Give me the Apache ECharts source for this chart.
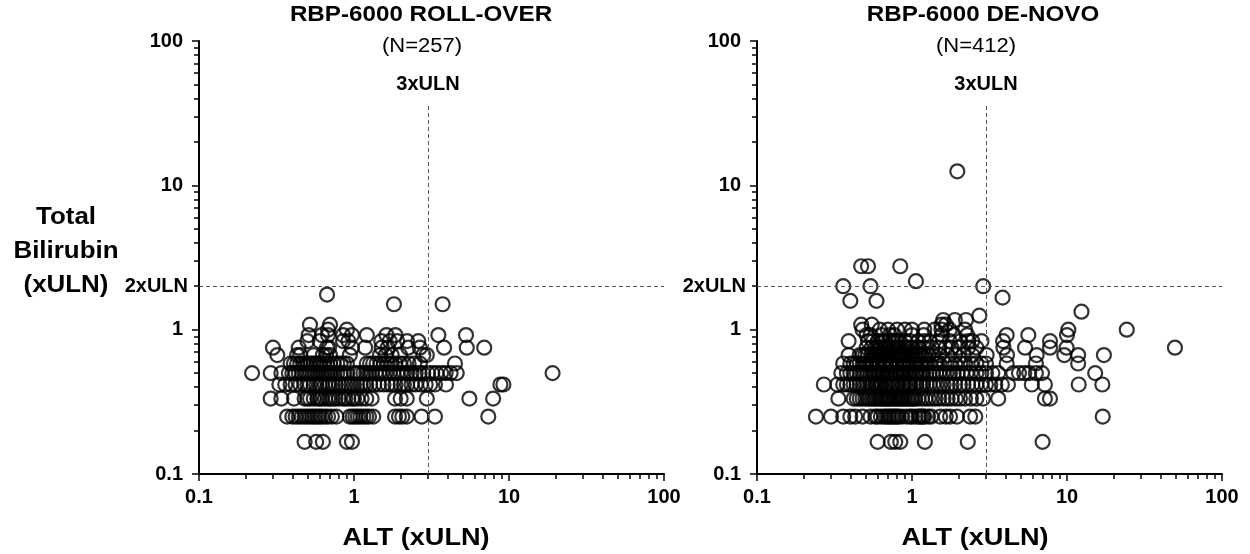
<!DOCTYPE html>
<html><head><meta charset="utf-8">
<script src="https://cdn.jsdelivr.net/npm/echarts@6/dist/echarts.min.js"></script>
<style>html,body{margin:0;padding:0;background:#fff}#c{width:1250px;height:554px}</style>
</head><body><div id="c"></div>
<script>
// ================= DATA =================
const tickLabels = ['0.1', '1', '10', '100'];
const minorTickValues = [0.2,0.3,0.4,0.5,0.6,0.7,0.8,0.9,2,3,4,5,6,7,8,9,20,30,40,50,60,70,80,90];
const altLimit = 3;          // 3xULN
const biliLimit = 2;         // 2xULN
const altLineTop = 37;       // top end of the 3xULN guide (bilirubin units)

// RBP-6000 ROLL-OVER : ALT (xULN) values for each bilirubin level (xULN)
const ro_b0167 = [0.48, 0.57, 0.63, 0.90, 0.97];
const ro_b0250 = [0.37,0.40,0.42,0.44,0.46,0.48,0.50,0.52,0.54,0.56,0.58,0.60,0.62,0.65,0.68,0.72,0.77,0.94,0.98,1.02,1.06,1.10,1.15,1.20,1.25,1.33,1.84,1.95,2.05,2.19,2.73,3.33,7.35];
const ro_b0333 = [0.29,0.34,0.41,0.48,0.50,0.52,0.55,0.58,0.60,0.62,0.65,0.68,0.70,0.73,0.76,0.80,0.85,0.88,0.92,0.97,1.00,1.05,1.12,1.20,1.30,1.84,2.00,2.19,2.95,5.55,7.90];
const ro_b0417 = [0.33,0.36,0.39,0.42,0.45,0.48,0.50,0.52,0.55,0.57,0.60,0.62,0.65,0.68,0.70,0.73,0.76,0.80,0.84,0.88,0.92,0.96,1.00,1.05,1.10,1.15,1.20,1.27,1.35,1.45,1.55,1.65,1.75,1.85,2.00,2.10,2.20,2.35,2.50,2.70,2.90,3.10,3.33,3.92,8.80,9.20];
const ro_b0500 = [0.22,0.29,0.34,0.38,0.40,0.42,0.44,0.46,0.48,0.50,0.52,0.54,0.56,0.58,0.60,0.62,0.64,0.66,0.68,0.70,0.72,0.75,0.78,0.82,0.86,0.90,1.00,1.05,1.10,1.15,1.20,1.25,1.30,1.38,1.45,1.52,1.60,1.70,1.80,1.90,2.00,2.10,2.20,2.35,2.50,2.65,2.80,3.00,3.20,3.40,3.65,3.90,4.20,4.60,19.1];
const ro_b0583 = [0.39,0.41,0.43,0.45,0.47,0.49,0.51,0.53,0.55,0.57,0.59,0.61,0.64,0.67,0.70,0.74,0.78,0.82,0.86,0.90,1.21,1.27,1.33,1.40,1.48,1.56,1.65,1.75,1.85,1.97,2.10,2.25,2.45,2.66,4.48];
const ro_b0667 = [0.32,0.43,0.45,0.55,0.63,0.66,0.70,0.94,1.47,1.60,1.75,1.98,2.80,2.95];
const ro_b0750 = [0.30,0.44,0.67,0.69,0.97,1.18,1.51,1.65,2.24,2.66,3.81,5.34,6.92];
const ro_b0833 = [0.50,0.60,0.85,0.92,1.50,1.70,1.90,2.20,2.60];
const ro_b0917 = [0.51,0.62,0.68,0.85,0.97,1.21,1.62,1.85,3.50,5.28];
const ro_b1000 = [0.68,0.90];
const ro_b1083 = [0.52,0.70];
const ro_b1500 = [1.81,3.73];
const ro_b1750 = [0.67];

// RBP-6000 DE-NOVO : ALT (xULN) values for each bilirubin level (xULN)
const dn_b0167 = [0.60,0.73,0.78,0.84,1.21,2.29,6.96];
const dn_b0250 = [0.24,0.30,0.36,0.40,0.43,0.48,0.54,0.58,0.60,0.63,0.66,0.68,0.70,0.72,0.74,0.76,0.78,0.80,0.82,0.86,0.92,0.97,1.00,1.05,1.10,1.12,1.15,1.18,1.20,1.27,1.33,1.52,1.65,1.76,1.95,2.37,2.56,17.0];
const dn_b0333 = [0.335,0.42,0.44,0.46,0.48,0.50,0.52,0.53,0.55,0.57,0.58,0.60,0.62,0.63,0.65,0.66,0.68,0.69,0.71,0.72,0.74,0.76,0.78,0.80,0.82,0.84,0.86,0.88,0.90,0.93,0.95,0.98,1.00,1.03,1.05,1.10,1.16,1.22,1.28,1.35,1.42,1.50,1.60,1.70,1.80,1.92,2.04,2.20,2.40,2.60,2.87,3.60,7.20,7.77];
const dn_b0417 = [0.27,0.33,0.36,0.38,0.40,0.42,0.44,0.46,0.48,0.50,0.52,0.54,0.55,0.56,0.58,0.59,0.60,0.62,0.63,0.64,0.67,0.69,0.70,0.73,0.75,0.76,0.79,0.81,0.82,0.86,0.88,0.90,0.94,0.96,0.98,1.02,1.05,1.07,1.12,1.15,1.18,1.24,1.30,1.37,1.44,1.52,1.60,1.70,1.80,1.90,2.04,2.15,2.30,2.45,2.60,2.80,3.00,3.20,3.45,3.80,4.16,5.93,7.20,11.9,16.9];
const dn_b0500 = [0.35,0.38,0.40,0.42,0.44,0.46,0.48,0.50,0.52,0.54,0.56,0.57,0.58,0.60,0.61,0.62,0.64,0.65,0.66,0.68,0.70,0.72,0.73,0.76,0.78,0.79,0.82,0.84,0.85,0.88,0.90,0.92,0.96,0.98,1.00,1.04,1.06,1.08,1.13,1.16,1.18,1.24,1.30,1.36,1.43,1.50,1.58,1.67,1.76,1.86,1.97,2.10,2.25,2.40,2.60,2.80,3.00,3.30,3.60,4.50,4.90,5.30,5.70,6.30,6.90,15.2];
const dn_b0583 = [0.36,0.40,0.42,0.44,0.46,0.48,0.50,0.51,0.53,0.55,0.56,0.59,0.60,0.62,0.65,0.66,0.68,0.71,0.73,0.75,0.79,0.80,0.83,0.87,0.89,0.92,0.95,0.97,1.02,1.05,1.08,1.12,1.15,1.22,1.26,1.30,1.40,1.45,1.50,1.62,1.75,1.90,2.05,2.20,2.40,2.60,2.80,3.00,4.08,6.30,11.8];
const dn_b0667 = [0.39,0.46,0.48,0.50,0.52,0.55,0.58,0.60,0.63,0.65,0.68,0.70,0.73,0.76,0.79,0.82,0.86,0.90,0.95,1.00,1.05,1.10,1.15,1.20,1.28,1.35,1.50,1.70,1.90,2.15,2.45,3.03,4.10,6.37,9.60,11.8,17.3];
const dn_b0750 = [0.51,0.55,0.58,0.60,0.63,0.66,0.69,0.72,0.75,0.78,0.82,0.85,0.89,0.93,0.97,1.00,1.05,1.10,1.20,1.35,1.50,1.65,1.80,2.00,2.30,2.60,3.89,5.36,7.77,9.94,49.7];
const dn_b0833 = [0.39,0.52,0.56,0.60,0.64,0.67,0.71,0.75,0.79,0.82,0.90,0.97,1.10,1.20,1.30,1.50,1.75,2.05,2.30,2.45,2.81,3.87,7.77];
const dn_b0917 = [0.51,0.54,0.64,0.72,0.77,1.00,1.19,1.56,1.86,2.27,4.08,5.63,10.0];
const dn_b1000 = [0.48,0.62,0.70,0.80,0.90,1.00,1.20,1.40,1.55,1.75,2.20,10.2,24.3];
const dn_b1083 = [0.47,0.55,1.55,1.65];
const dn_b1167 = [1.59,1.89,2.23];
const dn_b1250 = [2.72];
const dn_b1333 = [12.4];
const dn_b1583 = [0.40,0.59];
const dn_b1667 = [3.84];
const dn_b2000 = [0.36,0.54,2.88];
const dn_b2167 = [1.06];
const dn_b2750 = [0.47,0.52,0.84];
const dn_b12_5 = [1.96];

const rollOverRows = [
  [0.167, ro_b0167], [0.25, ro_b0250], [0.333, ro_b0333], [0.417, ro_b0417], [0.5, ro_b0500],
  [0.583, ro_b0583], [0.667, ro_b0667], [0.75, ro_b0750], [0.833, ro_b0833], [0.917, ro_b0917],
  [1.0, ro_b1000], [1.083, ro_b1083], [1.5, ro_b1500], [1.75, ro_b1750]
];
const deNovoRows = [
  [0.167, dn_b0167], [0.25, dn_b0250], [0.333, dn_b0333], [0.417, dn_b0417], [0.5, dn_b0500],
  [0.583, dn_b0583], [0.667, dn_b0667], [0.75, dn_b0750], [0.833, dn_b0833], [0.917, dn_b0917],
  [1.0, dn_b1000], [1.083, dn_b1083], [1.167, dn_b1167], [1.25, dn_b1250], [1.333, dn_b1333],
  [1.583, dn_b1583], [1.667, dn_b1667], [2.0, dn_b2000], [2.167, dn_b2167], [2.75, dn_b2750], [12.5, dn_b12_5]
];

// ================= CHART =================
const FONT = "'Liberation Sans', Arial, Helvetica, sans-serif";
function toPoints(rows) {
  const out = [];
  rows.forEach(([bili, alts]) => alts.forEach(a => out.push([a, bili])));
  return out;
}
const labelFmt = v => tickLabels[Math.round(Math.log10(v)) + 1];
const minorLog = minorTickValues.map(v => Math.log10(v));

function mainAxis(gridIndex, isX) {
  return {
    type: 'log', logBase: 10, min: 0.1, max: 100, gridIndex,
    position: isX ? 'bottom' : 'left',
    axisLine: { show: true, onZero: false, lineStyle: { color: '#000', width: 2 } },
    axisTick: { show: true, inside: false, length: 7, lineStyle: { color: '#000', width: 1.5 } },
    minorTick: { show: false },
    axisLabel: { color: '#000', fontSize: 20, fontWeight: 'bold', fontFamily: FONT,
                 margin: isX ? 13 : 16, formatter: labelFmt },
    splitLine: { show: false }
  };
}
function minorAxis(gridIndex, isX) {
  return {
    type: 'value', min: -1, max: 2, gridIndex,
    position: isX ? 'bottom' : 'left',
    axisLine: { show: false, onZero: false },
    axisTick: { show: true, inside: false, length: 5, customValues: minorLog,
                lineStyle: { color: '#000', width: 1.5 } },
    axisLabel: { show: false },
    splitLine: { show: false }
  };
}
function guideLines() {
  return {
    silent: true, symbol: 'none', animation: false,
    lineStyle: { color: '#555', type: [4, 3], width: 1 },
    label: { show: true, color: '#000', fontSize: 20, fontWeight: 'bold', fontFamily: FONT },
    emphasis: { disabled: true },
    data: [
      [{ coord: [0.1, biliLimit], label: { position: 'start', formatter: '2xULN', distance: 11 } },
       { coord: [100, biliLimit] }],
      [{ coord: [altLimit, 0.1], label: { position: 'end', formatter: '3xULN', distance: 9 } },
       { coord: [altLimit, altLineTop] }]
    ]
  };
}
function scatter(idx, data) {
  return {
    type: 'scatter', xAxisIndex: idx, yAxisIndex: idx, data,
    symbol: 'circle', symbolSize: 14, silent: true, animation: false,
    itemStyle: { color: 'rgba(255,255,255,0)', borderColor: '#000', borderWidth: 2.2 },
    emphasis: { disabled: true },
    markLine: guideLines()
  };
}
function txt(text, x, y, size, weight, sx, lh) {
  return {
    type: 'text', x, y, scaleX: sx, silent: true,
    style: { text, fill: '#000', font: weight + ' ' + size + 'px ' + FONT,
             textAlign: 'center', textVerticalAlign: 'middle', align: 'center', verticalAlign: 'middle',
             lineHeight: lh || size }
  };
}

const chart = echarts.init(document.getElementById('c'), null, { renderer: 'canvas' });
chart.setOption({
  backgroundColor: '#fff',
  animation: false,
  grid: [
    { left: 199, top: 41, width: 465, height: 433 },
    { left: 757, top: 41, width: 465, height: 433 }
  ],
  xAxis: [mainAxis(0, true), mainAxis(1, true), minorAxis(0, true), minorAxis(1, true)],
  yAxis: [mainAxis(0, false), mainAxis(1, false), minorAxis(0, false), minorAxis(1, false)],
  series: [scatter(0, toPoints(rollOverRows)), scatter(1, toPoints(deNovoRows))],
  graphic: [
    txt('RBP-6000 ROLL-OVER', 421, 15, 22, 'bold', 1.1),
    txt('(N=257)', 422, 46, 20, 'normal', 1.1),
    txt('RBP-6000 DE-NOVO', 983, 15, 22, 'bold', 1.1),
    txt('(N=412)', 976, 46, 20, 'normal', 1.1),
    txt('ALT (xULN)', 416, 538, 24, 'bold', 1.13),
    txt('ALT (xULN)', 975, 538, 24, 'bold', 1.13),
    txt('Total\nBilirubin\n(xULN)', 66, 251, 24, 'bold', 1.08, 34)
  ]
});
</script>
</body></html>
